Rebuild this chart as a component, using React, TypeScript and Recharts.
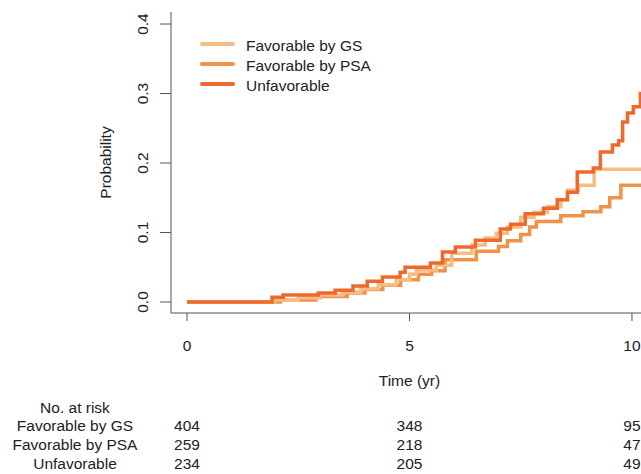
import { LineChart, Line, XAxis, YAxis } from "recharts";

// cumulative probability, step curves (time in years)
const gsTimes = [0, 1.95, 2.5, 3.0, 3.5, 3.9, 4.3, 4.7, 5.0, 5.15, 5.6, 5.95, 6.4, 6.7, 6.95, 7.2, 7.5, 7.8, 8.1, 8.4, 8.55, 8.8, 9.15, 10.5];
const gsProb = [0, 0.003, 0.006, 0.01, 0.014, 0.019, 0.025, 0.032, 0.04, 0.046, 0.053, 0.07, 0.082, 0.092, 0.099, 0.108, 0.122, 0.129, 0.137, 0.147, 0.161, 0.168, 0.191, 0.191];

const psaTimes = [0, 2.1, 2.9, 3.6, 4.0, 4.4, 4.8, 5.2, 5.5, 5.8, 6.5, 7.0, 7.2, 7.5, 7.7, 7.85, 8.4, 8.9, 9.3, 9.5, 9.75, 10.5];
const psaProb = [0, 0.003, 0.008, 0.013, 0.018, 0.024, 0.032, 0.04, 0.045, 0.061, 0.073, 0.08, 0.088, 0.097, 0.108, 0.116, 0.124, 0.13, 0.137, 0.15, 0.168, 0.168];

const unfTimes = [0, 1.91, 2.16, 2.95, 3.33, 3.73, 4.05, 4.39, 4.79, 4.9, 5.47, 5.74, 6.03, 6.48, 7.04, 7.27, 7.6, 8.01, 8.32, 8.55, 8.77, 9.13, 9.29, 9.56, 9.7, 9.79, 9.9, 10.03, 10.19, 10.3, 10.5];
const unfProb = [0, 0.007, 0.01, 0.013, 0.017, 0.023, 0.03, 0.036, 0.043, 0.05, 0.056, 0.072, 0.079, 0.089, 0.105, 0.112, 0.127, 0.135, 0.147, 0.158, 0.187, 0.193, 0.216, 0.226, 0.232, 0.259, 0.272, 0.281, 0.3, 0.315, 0.33];

const xTicks = [0, 5, 10];
const yTicks = [0, 0.1, 0.2, 0.3, 0.4];

const riskLabels = ["Favorable by GS", "Favorable by PSA", "Unfavorable"];
const gsAtRisk = [404, 348, 95];
const psaAtRisk = [259, 218, 47];
const unfAtRisk = [234, 205, 49];

const seriesNames = ["Favorable by GS", "Favorable by PSA", "Unfavorable"];
const colors = ["#F5BC84", "#F0934A", "#EE6A2C"];

const toData = (ts: number[], ps: number[]) => ts.map((t, i) => ({ t, p: ps[i] }));

const FONT = "'Liberation Sans', Arial, sans-serif";
const FS = 15.5;
const TXT = "#222";

const XTick = (props: any) => {
  const { x, y, payload } = props;
  const i = xTicks.indexOf(payload.value);
  const rows = [gsAtRisk, psaAtRisk, unfAtRisk];
  return (
    <g fontFamily={FONT} fontSize={FS} fill={TXT} textAnchor="middle">
      <text x={x} y={y + 24} dominantBaseline="central">{payload.value}</text>
      {rows.map((r, k) => (
        <text key={k} x={x} y={y + 104 + k * 19} dominantBaseline="central">{r[i]}</text>
      ))}
    </g>
  );
};

const YTick = (props: any) => {
  const { x, y, payload } = props;
  const cx = x - 17;
  return (
    <text x={cx} y={y} transform={`rotate(-90 ${cx} ${y})`} textAnchor="middle" dominantBaseline="central"
      fontFamily={FONT} fontSize={FS} fill={TXT}>
      {payload.value.toFixed(1)}
    </text>
  );
};

const YLabel = (props: any) => {
  const { viewBox } = props;
  const cx = viewBox.x + 105;
  const cy = viewBox.y + viewBox.height / 2;
  return (
    <text x={cx} y={cy} transform={`rotate(-90 ${cx} ${cy})`} textAnchor="middle" dominantBaseline="central"
      fontFamily={FONT} fontSize={FS} fill={TXT}>
      Probability
    </text>
  );
};

export default function App() {
  return (
    <div style={{ position: "absolute", left: 0, top: 0, width: 641, height: 474, overflow: "hidden", background: "#fff" }}>
      <LineChart width={648} height={474} margin={{ top: 12, right: 0, bottom: 0, left: 0 }}>
        <XAxis type="number" dataKey="t" domain={[-0.36, 10.36]} ticks={xTicks} allowDataOverflow
          height={161} tickSize={8} tickMargin={0} tick={<XTick />}
          axisLine={{ stroke: "#555" }} tickLine={{ stroke: "#555" }}
          label={{ value: "Time (yr)", position: "insideTop", offset: 62, fill: TXT, fontFamily: FONT, fontSize: FS }} />
        <YAxis type="number" domain={[-0.0158, 0.4173]} ticks={yTicks} allowDataOverflow
          width={171} tickSize={11} tickMargin={0} tick={<YTick />}
          axisLine={{ stroke: "#555" }} tickLine={{ stroke: "#555" }} label={<YLabel />} />
        <Line data={toData(psaTimes, psaProb)} dataKey="p" name={seriesNames[1]} type="stepAfter" stroke={colors[1]} strokeWidth={3.5} dot={false} isAnimationActive={false} />
        <Line data={toData(gsTimes, gsProb)} dataKey="p" name={seriesNames[0]} type="stepAfter" stroke={colors[0]} strokeWidth={3.5} dot={false} isAnimationActive={false} />
        <Line data={toData(unfTimes, unfProb)} dataKey="p" name={seriesNames[2]} type="stepAfter" stroke={colors[2]} strokeWidth={3.5} dot={false} isAnimationActive={false} />
      </LineChart>
      <svg width={190} height={64} style={{ position: "absolute", left: 200, top: 34 }}>
        {seriesNames.map((n, i) => (
          <g key={n}>
            <line x1={2} x2={33} y1={10 + i * 20} y2={10 + i * 20} stroke={colors[i]} strokeWidth={4} strokeLinecap="round" />
            <text x={46} y={11 + i * 20} dominantBaseline="central" fontFamily={FONT} fontSize={FS} fill={TXT}>{n}</text>
          </g>
        ))}
      </svg>
      <svg width={170} height={80} style={{ position: "absolute", left: 0, top: 394 }}>
        <g fontFamily={FONT} fontSize={FS} fill={TXT} textAnchor="middle">
          <text x={75} y={13} dominantBaseline="central">No. at  risk</text>
          {riskLabels.map((l, k) => (
            <text key={l} x={75} y={31 + k * 19} dominantBaseline="central">{l}</text>
          ))}
        </g>
      </svg>
    </div>
  );
}
